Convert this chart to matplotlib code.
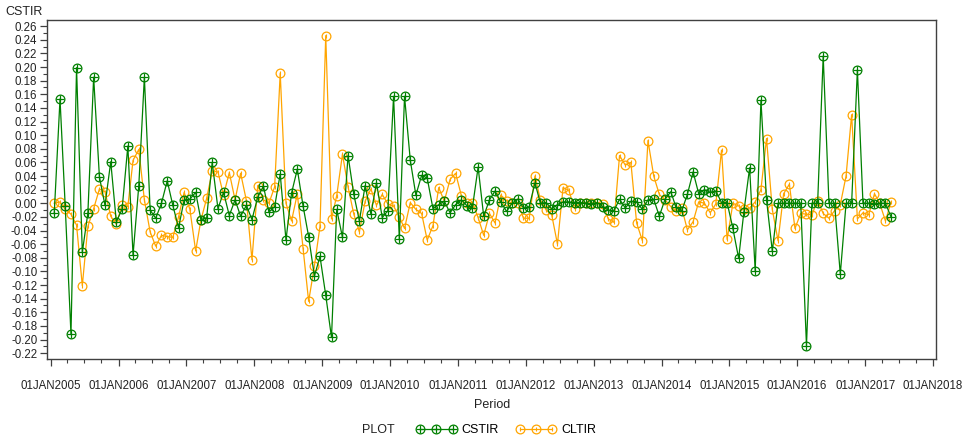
import matplotlib
matplotlib.use("Agg")
import matplotlib.pyplot as plt
import matplotlib.dates as mdates
from matplotlib.lines import Line2D
from matplotlib.legend_handler import HandlerTuple
from matplotlib.ticker import MultipleLocator, FuncFormatter
import pandas as pd
import numpy as np

plt.rcParams['font.family'] = ['Liberation Sans', 'DejaVu Sans']

# monthly observation dates, Jan 2005 .. May 2017
dates = pd.date_range('2005-01-01', periods=149, freq='MS') + pd.Timedelta(days=19)

cstir = [
    -0.015, 0.153, -0.004, -0.192, 0.199, -0.072, -0.014, 0.185, 0.039, -0.003, 0.061, -0.027,
    -0.009, 0.084, -0.076, 0.026, 0.185, -0.010, -0.022, 0.000, 0.033, -0.003, -0.036, 0.005,
    0.006, 0.016, -0.024, -0.022, 0.060, -0.008, 0.016, -0.018, 0.005, -0.019, -0.003, -0.024,
    0.009, 0.025, -0.013, -0.005, 0.043, -0.054, 0.015, 0.050, -0.004, -0.049, -0.107, -0.078,
    -0.135, -0.197, -0.009, -0.050, 0.070, 0.013, -0.026, 0.026, -0.016, 0.030, -0.021, -0.011,
    0.157, -0.053, 0.157, 0.063, 0.012, 0.041, 0.037, -0.008, -0.002, 0.003, -0.014, -0.002,
    0.005, -0.004, -0.007, 0.053, -0.019, 0.005, 0.018, 0.002, -0.012, 0.000, 0.006, -0.007,
    -0.005, 0.030, 0.000, 0.001, -0.008, -0.002, 0.002, 0.002, 0.001, 0.001, 0.000, -0.001,
    0.001, -0.005, -0.010, -0.011, 0.006, -0.007, 0.003, 0.002, -0.009, 0.005, 0.006, -0.019,
    0.006, 0.017, -0.006, -0.011, 0.013, 0.046, 0.014, 0.020, 0.016, 0.018, 0.001, 0.001,
    -0.037, -0.081, -0.013, 0.052, -0.099, 0.151, 0.005, -0.070, 0.000, 0.000, 0.000, 0.000,
    0.000, -0.209, 0.000, 0.000, 0.216, 0.000, 0.000, -0.104, 0.000, 0.000, 0.196, 0.000,
    0.000, -0.001, 0.000, 0.000, -0.020,
]

cltir = [
    0.000, 0.002, -0.009, -0.016, -0.032, -0.121, -0.034, -0.008, 0.021, 0.017, -0.019, -0.031,
    -0.002, -0.005, 0.063, 0.079, 0.005, -0.042, -0.063, -0.047, -0.049, -0.050, -0.020, 0.016,
    -0.009, -0.070, -0.025, 0.007, 0.047, 0.046, 0.012, 0.045, 0.005, 0.044, 0.004, -0.083,
    0.026, 0.005, 0.000, 0.024, 0.191, 0.000, -0.026, 0.014, -0.067, -0.144, -0.092, -0.034,
    0.246, -0.023, 0.011, 0.072, 0.024, -0.016, -0.042, 0.003, 0.021, -0.003, 0.013, -0.001,
    -0.004, -0.020, -0.037, 0.001, -0.009, -0.015, -0.054, -0.033, 0.023, 0.003, 0.035, 0.044,
    0.011, 0.001, 0.001, -0.021, -0.047, -0.015, -0.029, 0.012, 0.004, 0.000, 0.001, -0.022,
    -0.022, 0.040, 0.005, -0.010, -0.017, -0.060, 0.023, 0.019, -0.008, 0.001, 0.001, 0.000,
    0.001, -0.001, -0.023, -0.028, 0.070, 0.056, 0.060, -0.029, -0.055, 0.092, 0.040, 0.013,
    0.005, -0.005, -0.011, -0.007, -0.039, -0.027, 0.002, 0.000, -0.014, -0.001, 0.078, -0.053,
    0.000, -0.004, -0.009, -0.007, 0.002, 0.020, 0.095, -0.009, -0.055, 0.014, 0.028, -0.037,
    -0.015, -0.016, -0.017, 0.004, -0.015, -0.022, -0.011, -0.002, 0.040, 0.130, -0.023, -0.014,
    -0.017, 0.014, 0.000, -0.026, 0.002,
]

series_names = ['CSTIR', 'CLTIR']
green = '#008000'
orange = '#FFA500'
frame = '#404040'

fig = plt.figure(figsize=(9.66, 4.38), dpi=100)
ax = fig.add_axes([47/966, 1-359/438, (936-47)/966, (359-20)/438])

ms = 6.3
# CSTIR: circle with plus
ax.plot(dates, cstir, color=green, lw=0.9, marker='o', ms=ms, mfc='none', mew=0.9, zorder=3)
ax.plot(dates, cstir, color=green, lw=0, marker='+', ms=ms, mew=0.9, zorder=3)
# CLTIR: circle with small tick
ax.plot(dates, cltir, color=orange, lw=0.9, marker='o', ms=ms, mfc='none', mew=0.9, zorder=2)
ax.plot(dates, cltir, color=orange, lw=0, marker='|', ms=2.5, mew=0.8, zorder=2)

ax.set_xlim(pd.Timestamp('2004-12-12'), pd.Timestamp('2018-01-17'))
ax.set_ylim(-0.2286, 0.269)

ax.yaxis.set_minor_locator(MultipleLocator(0.01))
ax.set_yticks(np.round(np.arange(-0.22, 0.261, 0.02), 2))
ax.yaxis.set_major_formatter(FuncFormatter(lambda v, p: f"{v:.2f}" if abs(v) > 1e-9 else "0.00"))

ax.xaxis.set_major_locator(mdates.YearLocator(1, month=1, day=1))
ax.xaxis.set_minor_locator(mdates.MonthLocator(bymonth=[4, 7, 10]))
ax.xaxis.set_major_formatter(FuncFormatter(lambda v, p: mdates.num2date(v).strftime('%d%b%Y').upper()))

ax.tick_params(axis='both', which='major', direction='out', length=5, width=0.9, color=frame,
               labelsize=8.3, labelcolor='#222222')
ax.tick_params(axis='both', which='minor', direction='out', length=3, width=0.8, color=frame)
ax.tick_params(axis='x', which='major', pad=10)
ax.tick_params(axis='y', which='major', pad=2)

for s in ax.spines.values():
    s.set_color(frame)
    s.set_linewidth(1.0)

fig.text(5/966, 1-12/438, 'CSTIR', fontsize=9, va='center', ha='left', color='#222222')
fig.text(492/966, 1-405/438, 'Period', fontsize=9, va='center', ha='center', color='#222222')

# Legend
h1 = (Line2D([], [], color=green, lw=0.9, marker='o', ms=ms, mfc='none', mew=0.9),
      Line2D([], [], color=green, lw=0, marker='+', ms=ms, mew=0.9))
h2 = (Line2D([], [], color=orange, lw=0.9, marker='o', ms=ms, mfc='none', mew=0.9),
      Line2D([], [], color=orange, lw=0, marker='|', ms=2.5, mew=0.8))
fig.text(362/966, 1-430/438, 'PLOT', fontsize=9, va='center', ha='left', color='#222222')
leg = fig.legend([h1, h2], series_names, loc='center left', bbox_to_anchor=(410/966, 1-430/438),
                 ncol=2, frameon=False, numpoints=3, handlelength=3.2, handletextpad=0.4,
                 columnspacing=1.4, fontsize=9, borderpad=0,
                 handler_map={tuple: HandlerTuple(ndivide=1, pad=0)})

fig.savefig('out.png', dpi=100, facecolor='white')
